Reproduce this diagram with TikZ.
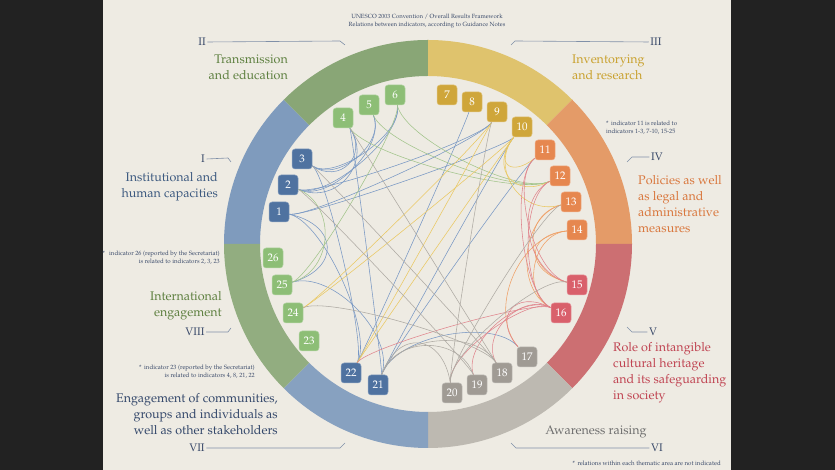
\documentclass[tikz,border=0pt]{standalone}
\usepackage[T1]{fontenc}
\usepackage{mathpazo}
\usetikzlibrary{calc}

\definecolor{ringI}{HTML}{7F9BBD}
\definecolor{ringII}{HTML}{89A676}
\definecolor{ringIII}{HTML}{DFC36D}
\definecolor{ringIV}{HTML}{E49B68}
\definecolor{ringV}{HTML}{CC6F72}
\definecolor{ringVI}{HTML}{BDB9B1}
\definecolor{ringVII}{HTML}{87A1C0}
\definecolor{ringVIII}{HTML}{92AD80}
\definecolor{boxB}{HTML}{4F72A0}
\definecolor{boxG}{HTML}{8DBE76}
\definecolor{boxY}{HTML}{CFA63A}
\definecolor{boxO}{HTML}{E6874F}
\definecolor{boxR}{HTML}{D9606B}
\definecolor{boxV}{HTML}{A09B94}
\definecolor{lnB}{HTML}{7898C4}
\definecolor{lnG}{HTML}{A2C48B}
\definecolor{lnY}{HTML}{EAC862}
\definecolor{lnO}{HTML}{EFA066}
\definecolor{lnR}{HTML}{E0848C}
\definecolor{lnV}{HTML}{AEAAA3}
\definecolor{txtI}{HTML}{3D5A80}
\definecolor{txtII}{HTML}{5E8040}
\definecolor{txtIII}{HTML}{C9A12E}
\definecolor{txtIV}{HTML}{D9773D}
\definecolor{txtV}{HTML}{C04452}
\definecolor{txtVI}{HTML}{6E6E6E}
\definecolor{txtVII}{HTML}{34486B}
\definecolor{numcol}{HTML}{3A4A6A}
\definecolor{leadcol}{HTML}{8090A8}
\definecolor{paper}{HTML}{EEEBE3}
\definecolor{frame}{HTML}{222222}

\tikzset{
  ind/.style={fill=#1, draw=#1!65!white, line width=0.5pt, rounded corners=3pt,
    minimum size=20pt, inner sep=0pt, text=white, font=\fontsize{11}{12}\selectfont},
  chord/.style={line width=0.55pt},
  numeral/.style={text=numcol, inner sep=1.5pt, font=\fontsize{11}{13}\selectfont},
  leader/.style={leadcol, line width=0.6pt},
  area/.style={inner sep=0pt, font=\fontsize{12.5}{16}\selectfont},
  note/.style={text=numcol, inner sep=0pt, font=\fontsize{6.2}{8.5}\selectfont}
}

\begin{document}
\begin{tikzpicture}[x=1pt, y=1pt]
    \useasboundingbox (0,0) rectangle (835,470);
    \fill[frame] (0,0) rectangle (835,470);
    \fill[paper] (103,0) rectangle (731,470);
    \coordinate (C) at (428,226);

    % thematic ring
    \foreach \s/\e/\col in {135/180/ringI, 90/135/ringII, 45/90/ringIII, 0/45/ringIV,
        -45/0/ringV, -90/-45/ringVI, -135/-90/ringVII, 180/225/ringVIII}
      \fill[\col] ($(C)+(\s:204)$) arc[start angle=\s, end angle=\e, radius=204pt]
        -- ($(C)+(\e:168)$) arc[start angle=\e, end angle=\s, radius=168pt] -- cycle;

    % indicators
    \foreach \n/\x/\y/\col in {1/279/258/boxB, 2/288/285/boxB, 3/302/311/boxB,
        4/343/352/boxG, 5/369/365/boxG, 6/395/375/boxG,
        7/447/375/boxY, 8/472/368/boxY, 9/497/358/boxY, 10/522/343/boxY,
        11/545/320/boxO, 12/560/294/boxO, 13/571/268/boxO, 14/577/240/boxO,
        15/577/185/boxR, 16/561/157/boxR,
        17/527/113/boxV, 18/502/97/boxV, 19/477/85/boxV, 20/452/77/boxV,
        21/378/85/boxB, 22/351/97/boxB,
        23/309/129/boxG, 24/293/157/boxG, 25/282/185/boxG, 26/273/212/boxG}
      \node[ind=\col] (n\n) at (\x,\y) {\n};

    % relations
    \foreach \a/\b/\col/\k in {3/4/lnB/0.3, 3/5/lnB/0.28, 3/6/lnB/0.26, 2/4/lnB/0.35,
        2/5/lnB/0.3, 2/6/lnB/0.27, 2/9/lnB/0.2, 1/9/lnB/0.2, 1/10/lnB/0.18,
        1/25/lnB/0.4, 1/22/lnB/0.3, 4/21/lnB/0.1, 3/22/lnB/0.2, 8/22/lnB/0.2,
        10/21/lnB/0.2, 11/21/lnB/0.2, 17/21/lnB/0.35, 25/21/lnB/0.35,
        4/12/lnG/0.3, 5/12/lnG/0.3, 6/12/lnG/0.3, 6/25/lnG/0.2, 2/25/lnG/0.35,
        10/11/lnY/0.3, 10/12/lnY/0.35, 10/13/lnY/0.35, 9/24/lnY/0.2,
        10/24/lnY/0.2, 9/22/lnY/0.2, 10/22/lnY/0.15,
        13/15/lnO/0.35, 13/16/lnO/0.35, 14/15/lnO/0.35, 14/16/lnO/0.3, 14/17/lnO/0.4,
        11/15/lnR/0.3, 11/16/lnR/0.3, 12/15/lnR/0.35, 12/16/lnR/0.3, 16/17/lnR/0.35,
        16/18/lnR/0.3, 16/19/lnR/0.3, 16/20/lnR/0.25, 16/22/lnR/0.2,
        3/18/lnV/0.15, 4/18/lnV/0.15, 2/19/lnV/0.15, 9/20/lnV/0.15, 13/20/lnV/0.2,
        15/20/lnV/0.25, 24/18/lnV/0.25, 21/18/lnV/0.35, 21/19/lnV/0.35, 21/20/lnV/0.4}
      \draw[chord, \col] (n\a) .. controls ($(n\a)!\k!(C)$) and ($(n\b)!\k!(C)$) .. (n\b);

    % title
    \node[note, align=center, font=\fontsize{6}{8}\selectfont] (title) at (427,449)
      {UNESCO 2003 Convention / Overall Results Framework\\
       Relations between indicators, according to Guidance Notes};

    % numerals and leaders
    \node[numeral] (rI) at (203,311) {I};
    \node[numeral] (rII) at (202,428) {II};
    \node[numeral] (rIII) at (656,428) {III};
    \node[numeral] (rIV) at (657,313) {IV};
    \node[numeral] (rV) at (653,138) {V};
    \node[numeral] (rVI) at (657,22) {VI};
    \node[numeral] (rVII) at (197,22) {VII};
    \node[numeral] (rVIII) at (195,138) {VIII};
    \coordinate (tI) at (231,308);
    \coordinate (tII) at (345,425);
    \coordinate (tIII) at (511,425);
    \coordinate (tIV) at (627,308);
    \coordinate (tV) at (627,143);
    \coordinate (tVI) at (511,27);
    \coordinate (tVII) at (345,27);
    \coordinate (tVIII) at (231,142);
    \draw[leader] (rI.east) -- (228,312) -- (tI);
    \draw[leader] (rII.east) -- (340,429) -- (tII);
    \draw[leader] (tIII) -- (515,429) -- (rIII.west);
    \draw[leader] (tIV) -- (632,313) -- (rIV.west);
    \draw[leader] (tV) -- (632,138) -- (rV.west);
    \draw[leader] (tVI) -- (516,22) -- (rVI.west);
    \draw[leader] (rVII.east) -- (340,22) -- (tVII);
    \draw[leader] (rVIII.east) -- (228,138) -- (tVIII);

    % area labels
    \node[area, text=txtII, align=right, anchor=east] (lII) at (288,403)
      {Transmission\\and education};
    \node[area, text=txtI, align=right, anchor=east] (lI) at (218,283)
      {Institutional and\\human capacities};
    \node[area, text=txtIII, align=left, anchor=west] (lIII) at (572,403)
      {Inventorying\\and research};
    \node[area, text=txtIV, align=left, anchor=west] (lIV) at (638,266)
      {Policies as well\\as legal and\\administrative\\measures};
    \node[area, text=txtV, align=left, anchor=west] (lV) at (613,97)
      {Role of intangible\\cultural heritage\\and its safeguarding\\in society};
    \node[area, text=txtVI] (lVI) at (596,38) {Awareness raising};
    \node[area, text=txtVII, align=right, anchor=east] (lVII) at (278,56)
      {Engagement of communities,\\groups and individuals as\\well as other stakeholders};
    \node[area, text=txtII, align=right, anchor=east] (lVIII) at (222,164)
      {International\\engagement};

    % notes
    \node[note, align=left, anchor=west] (note11) at (606,342)
      {*\, indicator 11 is related to\\indicators 1-3, 7-10, 15-25};
    \node[note, align=right, anchor=east] (note26) at (220,212)
      {*\hspace{4pt}indicator 26 (reported by the Secretariat)\\is related to indicators 2, 3, 23};
    \node[note, align=right, anchor=east] (note23) at (255,98)
      {*\, indicator 23 (reported by the Secretariat)\\is related to indicators 4, 8, 21, 22};
    \node[note, anchor=east] (noteall) at (721,7)
      {*\, relations within each thematic area are not indicated};
\end{tikzpicture}
\end{document}
